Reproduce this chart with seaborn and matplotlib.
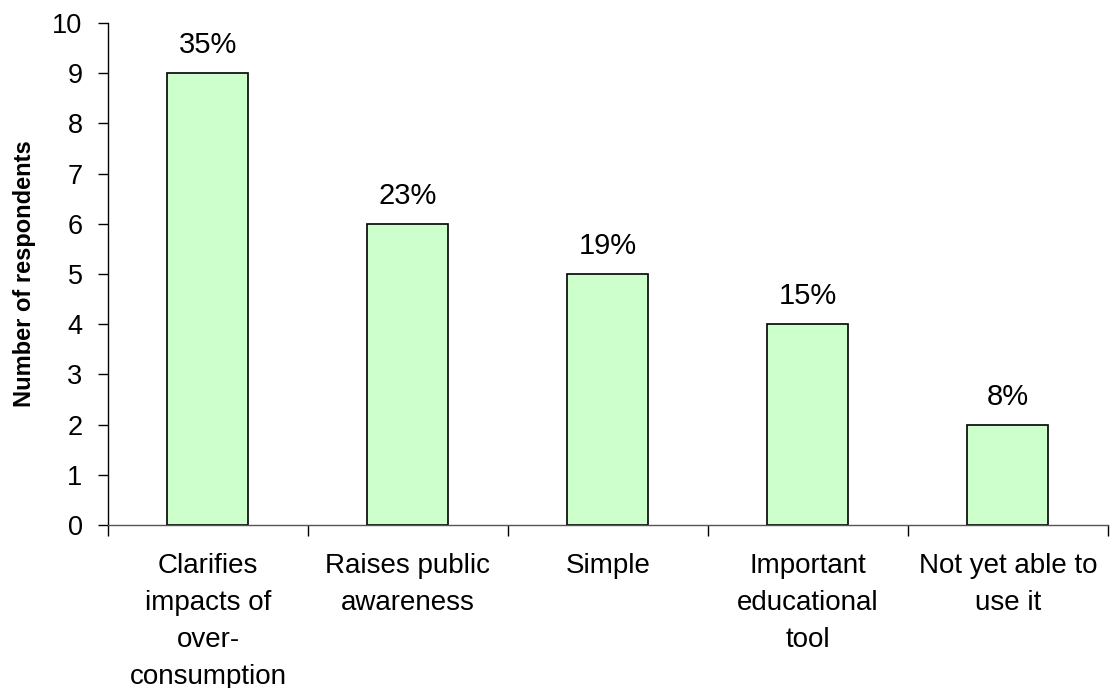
import matplotlib
matplotlib.use("Agg")
import matplotlib.pyplot as plt
import seaborn as sns
import pandas as pd
import numpy as np

categories = ["Clarifies\nimpacts of\nover-\nconsumption", "Raises public\nawareness", "Simple",
              "Important\neducational\ntool", "Not yet able to\nuse it"]
values = [9, 6, 5, 4, 2]
pct_labels = ["35%", "23%", "19%", "15%", "8%"]
yticks = list(range(0, 11))

sns.set_theme(style="white")
plt.rcParams['font.family'] = ['Liberation Sans', 'DejaVu Sans']
plt.rcParams['text.color'] = 'black'
plt.rcParams['axes.labelcolor'] = 'black'
plt.rcParams['xtick.color'] = 'black'
plt.rcParams['ytick.color'] = 'black'

fig = plt.figure(figsize=(11.12, 6.88), dpi=100)
ax = fig.add_axes([0.0971, 0.2369, 0.8993, 0.7297])

df = pd.DataFrame({"cat": categories, "val": values})
sns.barplot(data=df, x="cat", y="val", ax=ax, color="#CCFFCC", saturation=1,
            edgecolor="black", linewidth=1.2, width=0.405)

for i, (v, t) in enumerate(zip(values, pct_labels)):
    ax.text(i, v + 0.4, t, ha="center", va="baseline", fontsize=21, color="black")

ax.set_ylim(0, 10)
ax.set_xlim(-0.5, len(categories) - 0.5)
ax.set_yticks(yticks)
ax.set_yticklabels([str(t) for t in yticks], fontsize=19.5, color="black")
ax.set_xticks(range(len(categories)))
ax.set_xticklabels(categories, fontsize=20, va="top", linespacing=1.55, color="black")
ax.set_xticks(np.arange(-0.5, len(categories) + 0.5, 1), minor=True)
ax.tick_params(axis="x", which="major", length=0, pad=20, bottom=False)
ax.tick_params(axis="x", which="minor", length=8, width=1, color="black", direction="out", bottom=True)
ax.tick_params(axis="y", length=7.3, width=1, color="black", direction="out", pad=11, left=True)
ax.set_xlabel("")
ax.set_ylabel("Number of respondents", fontsize=17, fontweight="bold", labelpad=12, color="black")

for s in ["top", "right"]:
    ax.spines[s].set_visible(False)
ax.spines["left"].set_color("black")
ax.spines["left"].set_linewidth(1)
ax.spines["bottom"].set_color("#555555")
ax.spines["bottom"].set_linewidth(1)

fig.savefig("out.png", dpi=100)
